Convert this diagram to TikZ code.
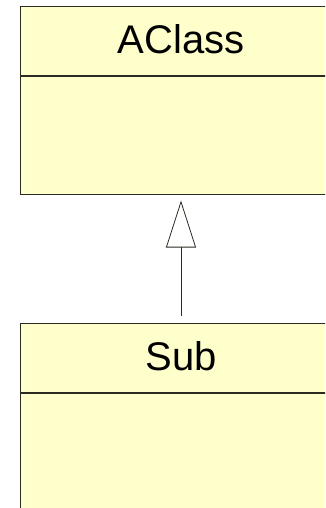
\documentclass[tikz,border=0pt]{standalone}
\usepackage{fontspec}
\setmainfont{Liberation Sans}
\usetikzlibrary{arrows.meta}
\definecolor{classfill}{HTML}{FFFFCC}
\definecolor{classline}{HTML}{2B2B22}
\tikzset{
  compartment/.style={draw=classline, fill=classfill, line width=1pt,
    rectangle, inner sep=0pt, minimum width=321pt, font=\fontsize{40}{40}\selectfont},
  namepart/.style={compartment, minimum height=69pt, text height=28pt, text depth=3pt},
  bodypart/.style={compartment, minimum height=117pt},
  inherits/.style={draw=classline, line width=0.8pt,
    -{Triangle[open, length=47pt, width=30pt, line width=0.8pt]}}
}
\begin{document}
\begin{tikzpicture}[x=1pt, y=-1pt]
  \useasboundingbox (0,0) rectangle (325,508);
  \clip (0,0) rectangle (325,508);
  % superclass
  \node[namepart] (aname) at (181,41.5) {AClass};
  \node[bodypart, anchor=north] (abody) at (aname.south) {};
  % subclass
  \node[namepart] (sname) at (181,358.25) {Sub};
  \node[bodypart, anchor=north] (sbody) at (sname.south) {};
  % generalization
  \draw[inherits, shorten >=6pt, shorten <=7pt] (sname.north) -- (abody.south);
\end{tikzpicture}
\end{document}
